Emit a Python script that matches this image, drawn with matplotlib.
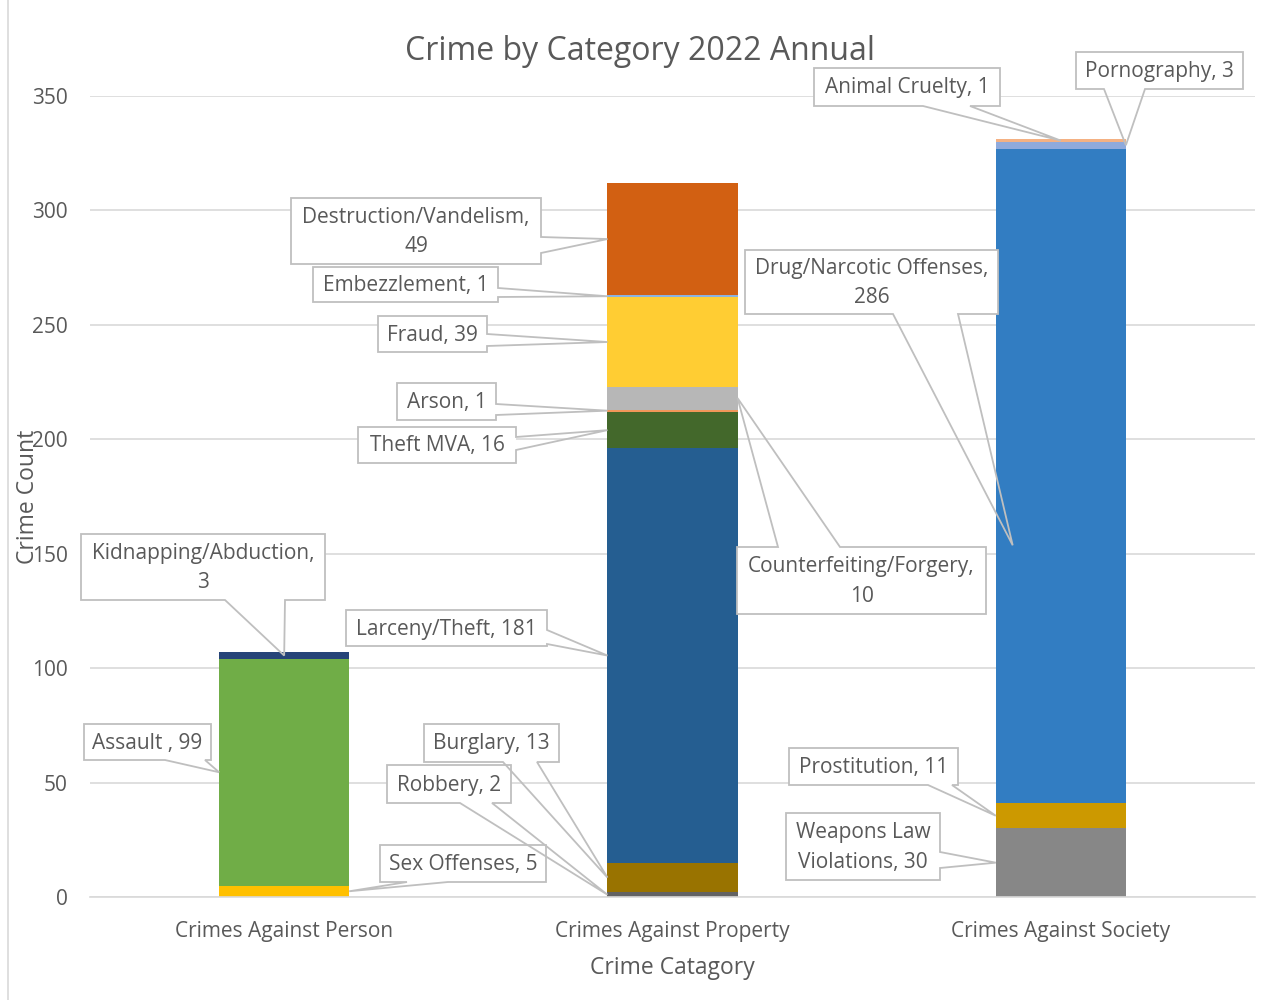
import matplotlib.pyplot as plt
from matplotlib.patches import Rectangle, Polygon
from matplotlib.transforms import Affine2D
from matplotlib.lines import Line2D

plt.rcParams['font.family'] = ['Open Sans', 'DejaVu Sans']

# ---- data ----
categories = ['Crimes Against Person', 'Crimes Against Property', 'Crimes Against Society']

person_labels = ['Sex Offenses', 'Assault ', 'Kidnapping/Abduction']
person_values = [5, 99, 3]
person_colors = ['#FFC000', '#70AD47', '#264478']

property_labels = ['Robbery', 'Burglary', 'Larceny/Theft', 'Theft MVA', 'Arson',
                   'Counterfeiting/Forgery', 'Fraud', 'Embezzlement', 'Destruction/Vandelism']
property_values = [2, 13, 181, 16, 1, 10, 39, 1, 49]
property_colors = ['#636363', '#997300', '#255E91', '#43682B', '#F1975A',
                   '#B7B7B7', '#FFCD33', '#8CB4DF', '#D26012']

society_labels = ['Weapons Law Violations', 'Prostitution', 'Drug/Narcotic Offenses',
                  'Pornography', 'Animal Cruelty']
society_values = [30, 11, 286, 3, 1]
society_colors = ['#878787', '#CC9900', '#327DC2', '#8FAADC', '#F4B183']

yticks = [0, 50, 100, 150, 200, 250, 300, 350]

# callout layout (pixel boxes: x0, y0, x1, y1 from top-left), wedge side + base points,
# tip: side of bar (-1 left, 0 centre, 1 right) and fraction up the segment, line break
callouts = {
    'Sex Offenses': ((380, 845, 546, 882), 'b', (407, 448), 1, 0.5, None),
    'Assault ': ((84, 724, 211, 760), 'b', (165, 205), -1, 0.5, None),
    'Kidnapping/Abduction': ((81, 534, 325, 600), 'b', (225, 285), 0, 0.5, ', '),
    'Robbery': ((387, 765, 511, 803), 'b', (460, 492), -1, 0.5, None),
    'Burglary': ((424, 724, 559, 762), 'b', (503, 537), -1, 0.5, None),
    'Larceny/Theft': ((346, 610, 547, 646), 'r', (630, 644), -1, 0.5, None),
    'Theft MVA': ((358, 427, 516, 463), 'r', (437, 450), -1, 0.5, None),
    'Arson': ((397, 383, 496, 420), 'r', (404, 415), -1, 0.5, None),
    'Counterfeiting/Forgery': ((737, 547, 986, 614), 't', (778, 840), 1, 0.5, ', '),
    'Fraud': ((378, 316, 487, 352), 'r', (334, 346), -1, 0.5, None),
    'Embezzlement': ((313, 267, 498, 302), 'r', (288, 297), -1, 0.5, None),
    'Destruction/Vandelism': ((291, 198, 541, 264), 'r', (237, 253), -1, 0.5, ', '),
    'Weapons Law Violations': ((786, 813, 940, 880), 'r', (852, 868), -1, 0.5, 'Law '),
    'Prostitution': ((789, 748, 958, 785), 'b', (928, 952), -1, 0.5, None),
    'Drug/Narcotic Offenses': ((745, 250, 998, 314), 'b', (893, 958), -0.74, 0.394, ', '),
    'Pornography': ((1076, 52, 1243, 89), 'b', (1104, 1145), 1, 0.5, None),
    'Animal Cruelty': ((814, 68, 1000, 106), 'b', (923, 970), 0, 0.5, None),
}

W, H = 1274, 1000
txt = '#595959'
grid = '#D9D9D9'
bar_w = 0.335

fig = plt.figure(figsize=(W / 100, H / 100), dpi=100)
ax = fig.add_axes([90 / W, 1 - 897 / H, 1165 / W, 801 / H])

stacks = [(person_labels, person_values, person_colors),
          (property_labels, property_values, property_colors),
          (society_labels, society_values, society_colors)]

segments = []
for i, (labs, vals, cols) in enumerate(stacks):
    bottom = 0
    for lab, v, c in zip(labs, vals, cols):
        ax.bar(i, v, bar_w, bottom=bottom, color=c, zorder=2)
        segments.append((i, lab, v, bottom))
        bottom += v

ax.set_xlim(-0.5, 2.5)
ax.set_ylim(0, 350)
ax.set_yticks(yticks)
ax.set_xticks(range(3))
ax.set_xticklabels(categories)
ax.tick_params(length=0, labelsize=15, labelcolor=txt)
ax.tick_params(axis='y', pad=16)
ax.tick_params(axis='x', pad=17)
ax.grid(axis='y', color=grid, lw=1.2, zorder=0)
for s in ['top', 'right', 'left']:
    ax.spines[s].set_visible(False)
ax.spines['bottom'].set_color(grid)
ax.spines['bottom'].set_linewidth(1.2)

ax.set_ylabel('Crime Count', fontsize=16.5, color=txt, va='center')
ax.yaxis.set_label_coords(-0.053, 0.5)
ax.set_xlabel('Crime Catagory', fontsize=16.5, color=txt, va='center')
ax.xaxis.set_label_coords(0.5, -0.0885)
fig.text(640 / W, 1 - 52 / H, 'Crime by Category 2022 Annual', fontsize=23,
         color=txt, ha='center', va='center')

# frame edge on the left
fig.add_artist(Line2D([8 / W, 8 / W], [0, 1], color=grid, lw=1.2))

# pixel frame, origin top-left
pix = Affine2D().scale(1 / W, -1 / H).translate(0, 1) + fig.transFigure
to_pix = pix.inverted()

for i, lab, v, bottom in segments:
    (x0, y0, x1, y1), side, (b1, b2), tside, frac, wrap = callouts[lab]
    tip = to_pix.transform(ax.transData.transform((i + tside * bar_w / 2, bottom + frac * v)))
    tip = tuple(tip)
    lo, hi = min(b1, b2), max(b1, b2)
    if side == 'b':
        pts = [(x0, y0), (x1, y0), (x1, y1), (hi, y1), tip, (lo, y1), (x0, y1)]
    elif side == 'r':
        pts = [(x0, y0), (x1, y0), (x1, lo), tip, (x1, hi), (x1, y1), (x0, y1)]
    elif side == 't':
        pts = [(x0, y0), (lo, y0), tip, (hi, y0), (x1, y0), (x1, y1), (x0, y1)]
    else:
        pts = [(x0, y0), (x1, y0), (x1, y1), (x0, y1), (x0, hi), tip, (x0, lo)]
    fig.add_artist(Rectangle((x0, y0), x1 - x0, y1 - y0, transform=pix,
                             facecolor='white', edgecolor='none', zorder=5))
    fig.add_artist(Polygon(pts, closed=True, transform=pix, fill=False,
                           edgecolor='#BFBFBF', lw=1.3, zorder=6))
    label = f'{lab}, {v}'
    if wrap:
        label = label.replace(wrap, wrap.rstrip() + '\n', 1)
    fig.text((x0 + x1) / 2 / W, 1 - (y0 + y1 + 2) / 2 / H, label, fontsize=15,
             color=txt, ha='center', va='center', linespacing=1.55, zorder=7)

fig.savefig('out.png', dpi=100)
